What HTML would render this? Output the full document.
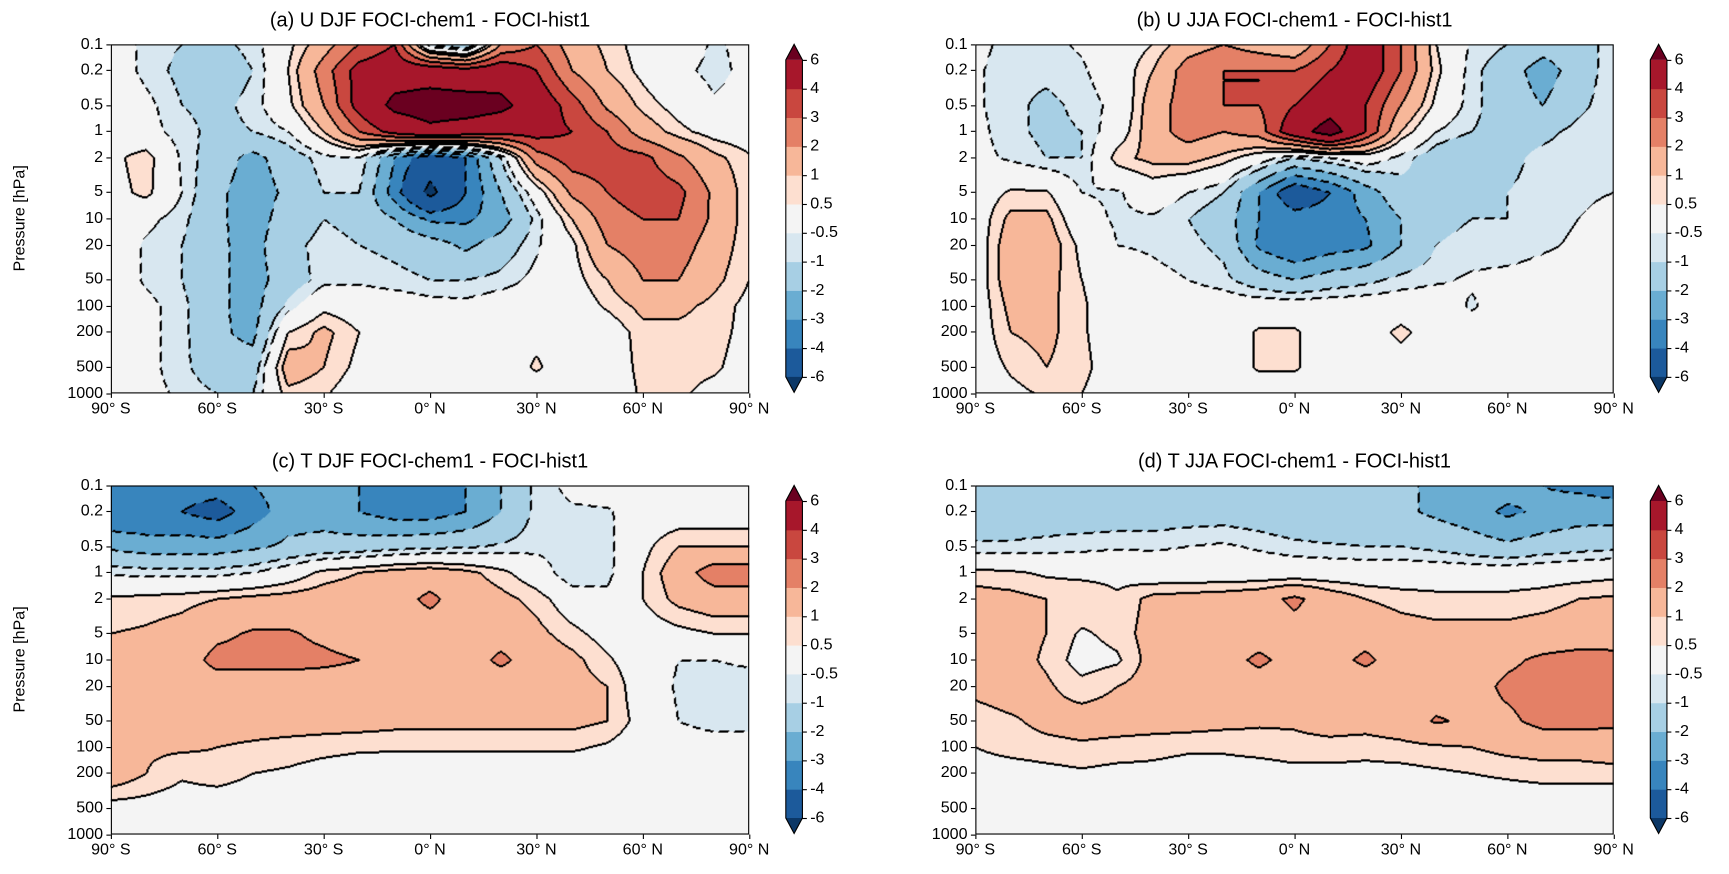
<!DOCTYPE html>
<html><head><meta charset="utf-8">
<style>
html,body{margin:0;padding:0;background:#fff;width:1729px;height:874px;overflow:hidden;font-family:"Liberation Sans","DejaVu Sans",sans-serif;}
#wrap{position:absolute;left:0;top:0;width:1560px;height:789px;transform:scale(1.10833);transform-origin:0 0;}
.abs{position:absolute;}
.title{font-size:18px;white-space:nowrap;transform:translateX(-50%);}
.tick{font-size:14.5px;white-space:nowrap;}
.ylab{font-size:14.5px;transform:rotate(-90deg);transform-origin:center;white-space:nowrap;}
canvas{position:absolute;}
</style></head><body>
<div id="wrap"></div>
<script>
const levels=[-6,-4,-3,-2,-1,-0.5,0.5,1,2,3,4,6];
const colors=["#0b3766","#1c5a9b","#3885bd","#6aadd2","#a7cfe4","#d8e7f0","#f4f4f4","#fddfd0","#f7b799","#e48066","#c9473f","#a7172b","#6a0020"];
const lats=[-90,-80,-70,-60,-50,-40,-30,-20,-10,0,10,20,30,40,50,60,70,80,90];
const pres=[0.1,0.2,0.5,1,2,5,10,20,50,100,200,500,1000];
const xTickLabels=["90° S","60° S","30° S","0° N","30° N","60° N","90° N"];
const xTickVals=[-90,-60,-30,0,30,60,90];
const yTickLabels=["0.1","0.2","0.5","1","2","5","10","20","50","100","200","500","1000"];
const cbLabels=["6","4","3","2","1","0.5","-0.5","-1","-2","-3","-4","-6"];
const uDJF=[
[0,-0.7,-1,-1.2,-0.8,0.3,1.5,3,4,-1,-2,2,3,1.5,0.8,0.2,0,-0.6,-0.3],
[0,-0.7,-1.2,-1.5,-1,0.5,2.5,4.5,5,5,4.5,5,4,2,1,0.3,-0.3,-0.7,-0.3],
[0.2,-0.3,-1,-1.2,-0.8,0.3,2,4.5,6.5,7,7,6.5,5,3.5,1.8,0.8,0.2,-0.4,-0.2],
[0,-0.2,-0.8,-1.2,-1,-0.5,1,3,4.5,5.5,5,4.5,4.5,4,3,1.5,0.7,0.2,0],
[0.3,0.8,-0.6,-1.5,-2.3,-1.5,-0.7,-0.5,-3,-5,-4,-1,2.5,3.5,3.5,3.3,2.2,1.2,0.6],
[0.2,0.7,-0.5,-1.8,-2.5,-1.8,-1,-1,-3.5,-6.5,-4,-2,0,2.2,3,3.6,3.3,1.8,0.6],
[0,-0.3,-0.8,-1.8,-2.5,-1.5,-1,-1.2,-2,-3.2,-3.2,-2.5,-0.8,1,2.5,3,3,1.8,0.6],
[0,-0.6,-1,-1.8,-2.4,-1.2,-0.8,-1,-1.2,-1.5,-2.2,-1.5,-0.6,0.3,2,2.5,2.5,1.5,0.6],
[0,-0.6,-1,-1.8,-2.4,-1.5,-0.7,-0.6,-0.8,-1,-1,-0.8,-0.3,0.2,1,2,2,1.2,0.5],
[0,-0.3,-0.8,-1.8,-2.4,-0.8,0.3,0,0,-0.2,-0.3,0,0,0,0.6,1.2,1.2,0.8,0.3],
[0,-0.3,-0.8,-1.8,-2.3,0.5,1.2,0.5,0,0,0,0,0.3,0,0,0.8,0.8,0.7,0.3],
[0,-0.3,-0.8,-1.6,-1.5,1.5,1,0.3,0,0,0,0,0.6,0,0,0.7,0.7,0.6,0.2],
[0,-0.3,-0.6,-1,-1,0.8,0.6,0,0,0,0,0,0,0,0,0.6,0.6,0.3,0]];
const uJJA=[
[-0.3,-0.7,-0.7,-0.4,0,0.5,1.5,2,1.5,1,3,5,3,0.5,-0.6,-1,-1.5,-1.5,-0.6],
[-0.4,-0.8,-0.8,-0.6,0,1,2.5,3,3,3,4,5,3,0.7,-0.8,-1.5,-2.5,-1.5,-0.6],
[-0.4,-0.8,-1.2,-0.8,-0.3,1.5,2.5,3,3,4,5,4,2,0.3,-0.8,-1.5,-2,-1.2,-0.6],
[-0.3,-0.8,-1.2,-1,0,1.5,2.5,2,2.5,5,7,4,1,-0.5,-1,-1.3,-1.2,-0.8,-0.6],
[-0.3,-0.6,-1,-1,0.8,1.2,1.3,0.8,0,-1,-0.5,0,-0.7,-1.5,-2,-1.2,-0.8,-0.7,-0.6],
[0,0.6,0.6,-0.5,-0.6,0,-0.5,-1,-3,-5,-4,-2.5,-1.3,-1.2,-1.2,-1,-0.8,-0.6,-0.5],
[0,1.2,1.2,-0.2,-0.6,-0.6,-1,-1.5,-3,-3.5,-3.5,-3,-2,-1.2,-1,-1,-0.7,-0.5,-0.3],
[0,1.5,1.5,0.3,-0.5,-0.6,-0.8,-1.2,-3.2,-4,-3.5,-3.2,-2,-1,-0.8,-0.8,-0.6,-0.4,-0.2],
[0,1.5,1.3,0.5,0,-0.3,-0.5,-0.8,-1.5,-2,-1.5,-1.2,-0.8,-0.6,-0.4,-0.3,-0.2,-0.1,0],
[0,1.2,1.2,0.6,0,0,0,0,0,0,0,0,0,0,-0.6,0,0,0,0],
[0,1,1.2,0.6,0,0,0,0,0.6,0.6,0,0,0.7,0,0,0,0,0,0],
[0,0.6,1,0.7,0,0,0,0,0.6,0.6,0,0,0,0,0,0,0,0,0],
[0,0.3,0.6,0.5,0,0,0,0,0,0,0,0,0,0,0,0,0,0,0]];
const tDJF=[
[-3.2,-3.5,-3.5,-3.5,-3,-2.5,-2.5,-3,-3.5,-3.5,-3,-2,-0.8,-0.3,0,0,0,0,0],
[-4,-4,-4,-4.5,-3.5,-2.5,-2.5,-3,-3.5,-3.5,-3,-2,-0.8,-0.6,-0.6,0,0,0,0],
[-2.2,-2.5,-2.5,-2.5,-2.2,-1.8,-1.6,-1.5,-1.3,-1.2,-1.1,-0.9,-0.7,-0.8,-0.7,0.3,1,1,1],
[-0.6,-0.7,-0.7,-0.7,-0.5,0,0.7,1,1.3,1.5,1.2,0.7,0,-1,-0.7,0.5,1.5,2.5,2.5],
[0.6,0.7,0.8,1,1.2,1.3,1.4,1.5,1.6,2.2,1.5,1.2,0.8,0,-0.3,0.5,1.2,1.5,1.5],
[1,1.1,1.3,1.8,2.1,2.1,1.8,1.5,1.5,1.5,1.5,1.6,1.2,0.7,0.2,0.1,0.3,0.5,0.5],
[1.1,1.3,1.5,2.3,2.3,2.3,2.2,2,1.5,1.5,1.5,2.2,1.5,1.2,0.6,0,-0.5,-0.5,-0.3],
[1,1.2,1.5,1.5,1.5,1.5,1.5,1.5,1.4,1.4,1.4,1.4,1.5,1.3,1,0,-0.6,-1,-1],
[1.2,1.3,1.3,1.3,1.3,1.3,1.3,1.3,1.2,1.2,1.2,1.2,1.2,1.2,1,0.2,-0.5,-0.7,-0.7],
[1.1,1.1,1.1,1,0.9,0.8,0.7,0.6,0.6,0.6,0.6,0.6,0.6,0.6,0.4,0,-0.2,-0.2,-0.2],
[1.5,1,0.6,0.8,0.5,0.4,0.2,0.1,0,0,0,0,0,0,0,0,0,0,0],
[0.2,0.2,0.1,0,0,0,0,0,0,0,0,0,0,0,0,0,0,0,0],
[0,0,0,0,0,0,0,0,0,0,0,0,0,0,0,0,0,0,0]];
const tJJA=[
[-1.5,-1.5,-1.5,-1.5,-1.5,-1.5,-1.5,-1.5,-1.5,-1.8,-2,-2,-2,-2,-2.2,-2.5,-3,-3.2,-3.5],
[-1.5,-1.5,-1.5,-1.5,-1.5,-1.5,-1.4,-1.4,-1.5,-1.8,-2,-2,-1.8,-2.2,-2.6,-3.2,-2.8,-2.5,-2.5],
[-0.9,-0.9,-0.8,-0.7,-0.6,-0.6,-0.5,-0.4,-0.6,-0.8,-0.9,-1,-1,-1.2,-1.5,-1.8,-1.5,-1.3,-1.2],
[0.7,0.6,0.4,0.3,0.3,0,0,0,0,0,0,0,0,0,0,0,0.1,0.2,0.3],
[1.3,1.2,1,1,0.6,1.2,1.3,1.4,1.6,2.2,1.5,1,0.8,0.7,0.7,0.7,0.8,1,1.1],
[1.3,1.3,1,0.4,0.7,1.3,1.5,1.5,1.5,1.6,1.5,1.6,1.3,1.2,1.2,1.2,1.3,1.4,1.5],
[1.3,1.3,0.9,0.2,0.4,1.3,1.6,1.6,2.2,1.6,1.6,2.2,1.5,1.4,1.5,1.8,2.2,2.4,2.3],
[1.2,1.4,1.1,0.7,1,1.3,1.5,1.5,1.5,1.4,1.4,1.4,1.4,1.4,1.6,2.2,2.4,2.4,2.3],
[0.7,0.9,1.2,1.3,1.3,1.3,1.3,1.2,1.1,1.1,1.3,1.3,1.5,2.1,1.8,1.8,2.3,2.3,2.2],
[0.5,0.7,0.8,0.9,0.8,0.7,0.6,0.6,0.7,0.8,0.8,0.7,0.8,0.9,1,1.2,1.3,1.3,1.5],
[0.2,0.2,0.3,0.4,0.3,0.3,0.2,0.2,0.2,0.3,0.3,0.3,0.3,0.4,0.5,0.6,0.7,0.7,0.7],
[0,0,0,0,0,0,0,0,0,0,0,0,0,0,0,0,0,0,0],
[0,0,0,0,0,0,0,0,0,0,0,0,0,0,0,0,0,0,0]];

const W=576,H=315;
const wrap=document.getElementById('wrap');
function xScale(lat){return (lat+90)/180*W;}
function yScale(p){return Math.log10(p/0.1)/4*H;}
function bin(v){let i=0;while(i<levels.length&&v>=levels[i])i++;return i;}
function hex(c){return [parseInt(c.substr(1,2),16),parseInt(c.substr(3,2),16),parseInt(c.substr(5,2),16)];}
const rgb=colors.map(hex);
const rowY=pres.map(yScale);

function sample(grid,px,py){
  const lat=-90+px/W*180;
  let f=(lat-lats[0])/(lats[1]-lats[0]);f=Math.max(0,Math.min(lats.length-1.0001,f));
  const i=Math.floor(f),fx=f-i;
  let j=0;while(j<rowY.length-2&&py>rowY[j+1])j++;
  let fy=(py-rowY[j])/(rowY[j+1]-rowY[j]);fy=Math.max(0,Math.min(1,fy));
  const a=grid[j][i]*(1-fx)+grid[j][i+1]*fx;
  const b=grid[j+1][i]*(1-fx)+grid[j+1][i+1]*fx;
  return a*(1-fy)+b*fy;
}

function el(tag,cls,style,text){const e=document.createElement(tag);if(cls)e.className=cls;Object.assign(e.style,style);if(text!=null)e.textContent=text;return e;}

function panel(x0,y0,grid,title,name,showY){
  const cv=document.createElement('canvas');
  
  
  cv.width=W;cv.height=H;cv.style.left=x0+'px';cv.style.top=y0+'px';
  wrap.appendChild(cv);
  const ctx=cv.getContext('2d');const img=ctx.createImageData(W,H);
  const bins=new Int8Array(W*H);
  for(let y=0;y<H;y++)for(let x=0;x<W;x++){bins[y*W+x]=bin(sample(grid,x+0.5,y+0.5));}
  for(let y=0;y<H;y++)for(let x=0;x<W;x++){
    const k=y*W+x,b=bins[k];
    let nb=b;
    if(x<W-1&&bins[k+1]!==b)nb=bins[k+1];
    else if(y<H-1&&bins[k+W]!==b)nb=bins[k+W];
    else if(x>0&&bins[k-1]!==b)nb=bins[k-1];
    else if(y>0&&bins[k-W]!==b)nb=bins[k-W];
    let edge=nb!==b;
    let c=rgb[b];
    if(edge){
      const lv=levels[Math.min(b,nb)];
      if(lv<0&&((x+y)%14)>=9)edge=false;
    }
    if(edge)c=[0,0,0];
    img.data[k*4]=c[0];img.data[k*4+1]=c[1];img.data[k*4+2]=c[2];img.data[k*4+3]=255;
  }
  ctx.putImageData(img,0,0);
  const frame=el('div','abs',{left:x0+'px',top:y0+'px',width:W+'px',height:H+'px',border:'1px solid #000',boxSizing:'border-box'});
  
  
  wrap.appendChild(frame);
  const t=el('div','abs title',{left:(x0+W/2)+'px',top:(y0-32)+'px'},title);
  
  
  wrap.appendChild(t);
  xTickVals.forEach((v,i)=>{
    const tx=x0+xScale(v);
    const tk=el('div','abs',{left:(tx-0.5)+'px',top:(y0+H)+'px',width:'1px',height:'4px',background:'#000'});
    
    
    wrap.appendChild(tk);
    const lb=el('div','abs tick',{left:tx+'px',top:(y0+H+6)+'px',transform:'translateX(-50%)'},xTickLabels[i]);
    
    
    wrap.appendChild(lb);
  });
  pres.forEach((p,i)=>{
    const ty=y0+yScale(p);
    const tk=el('div','abs',{left:(x0-4)+'px',top:(ty-0.5)+'px',width:'4px',height:'1px',background:'#000'});
    
    
    wrap.appendChild(tk);
    const lb=el('div','abs tick',{right:(1560-x0+7)+'px',top:(ty-8.5)+'px'},yTickLabels[i]);
    
    
    wrap.appendChild(lb);
  });
  if(showY){
    const yl=el('div','abs ylab',{left:(x0-137)+'px',top:(y0+H/2-9)+'px',width:'110px',textAlign:'center'},'Pressure [hPa]');
    
    
    wrap.appendChild(yl);
  }
  const cx=x0+W+33,cw=15,ctop=y0+14,cbot=y0+300;
  const svgNS='http://www.w3.org/2000/svg';
  const svg=document.createElementNS(svgNS,'svg');
  
  
  svg.setAttribute('width','20');svg.setAttribute('height',(H+10)+'');
  svg.style.position='absolute';svg.style.left=(cx-2)+'px';svg.style.top=(y0-5)+'px';
  const nbins=levels.length-1,seg=(cbot-ctop)/nbins;
  const oy=y0-5,ox=cx-2;
  for(let i=0;i<nbins;i++){
    const r=document.createElementNS(svgNS,'rect');
    r.setAttribute('x',cx-ox);r.setAttribute('y',ctop-oy+(nbins-1-i)*seg);r.setAttribute('width',cw);r.setAttribute('height',seg+0.5);
    r.setAttribute('fill',colors[i+1]);svg.appendChild(r);
  }
  const t1=document.createElementNS(svgNS,'polygon');
  t1.setAttribute('points',`${cx-ox},${ctop-oy} ${cx-ox+cw},${ctop-oy} ${cx-ox+cw/2},${ctop-oy-14}`);t1.setAttribute('fill',colors[12]);svg.appendChild(t1);
  const t2=document.createElementNS(svgNS,'polygon');
  t2.setAttribute('points',`${cx-ox},${cbot-oy} ${cx-ox+cw},${cbot-oy} ${cx-ox+cw/2},${cbot-oy+14}`);t2.setAttribute('fill',colors[0]);svg.appendChild(t2);
  const outline=document.createElementNS(svgNS,'polygon');
  outline.setAttribute('points',`${cx-ox},${ctop-oy} ${cx-ox+cw/2},${ctop-oy-14} ${cx-ox+cw},${ctop-oy} ${cx-ox+cw},${cbot-oy} ${cx-ox+cw/2},${cbot-oy+14} ${cx-ox},${cbot-oy}`);
  outline.setAttribute('fill','none');outline.setAttribute('stroke','#000');outline.setAttribute('stroke-width','1');svg.appendChild(outline);
  wrap.appendChild(svg);
  cbLabels.forEach((s,i)=>{
    const ly=ctop+i*seg;
    const tk=el('div','abs',{left:(cx+cw)+'px',top:(ly-0.5)+'px',width:'4px',height:'1px',background:'#000'});
    
    
    wrap.appendChild(tk);
    const lb=el('div','abs tick',{left:(cx+cw+7)+'px',top:(ly-8.5)+'px'},s);
    
    
    wrap.appendChild(lb);
  });
}
panel(100,40,uDJF,'(a)  U DJF FOCI-chem1 - FOCI-hist1','panel-a',true);
panel(880,40,uJJA,'(b)  U JJA FOCI-chem1 - FOCI-hist1','panel-b',false);
panel(100,438,tDJF,'(c)  T DJF FOCI-chem1 - FOCI-hist1','panel-c',true);
panel(880,438,tJJA,'(d)  T JJA FOCI-chem1 - FOCI-hist1','panel-d',false);
</script>
</body></html>
